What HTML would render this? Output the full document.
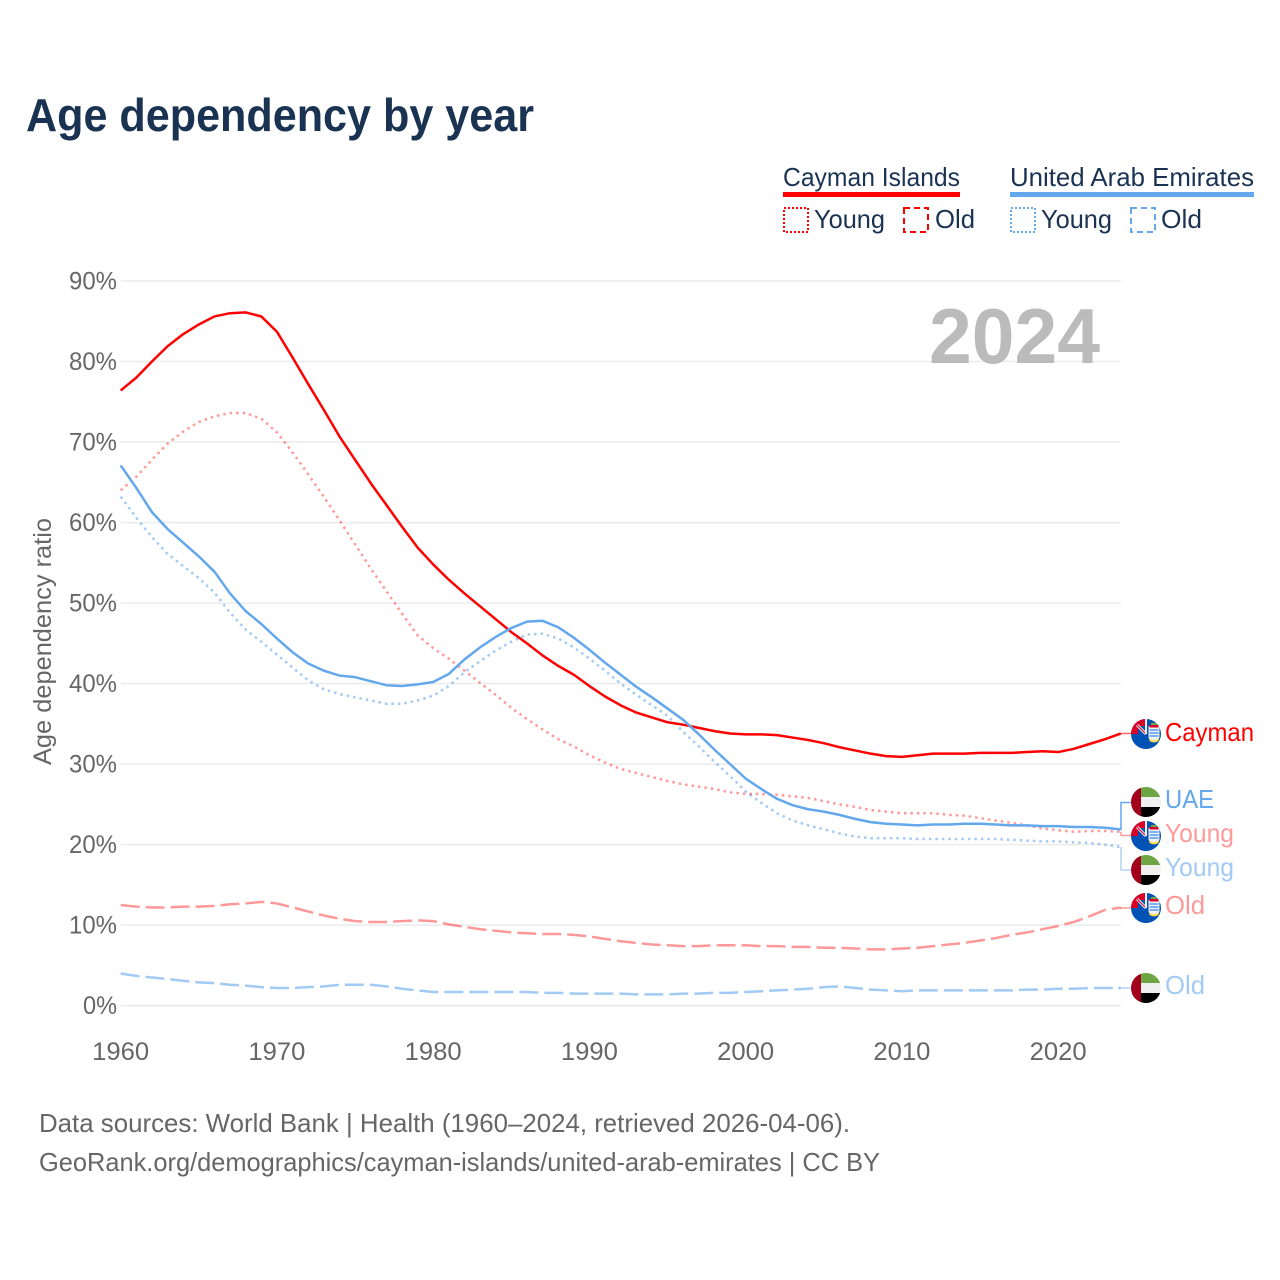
<!DOCTYPE html>
<html lang="en">
<head>
<meta charset="utf-8">
<title>Age dependency by year</title>
<style>
html,body{margin:0;padding:0;background:#fff;}
svg{display:block;}
text{font-family:"Liberation Sans",sans-serif;}
.tick{font-size:25px;fill:#666;}
.leg{font-size:26px;fill:#1a3353;}
.end{font-size:26px;}
.foot{font-size:26px;fill:#666;}
</style>
</head>
<body>
<svg id="chart" xmlns="http://www.w3.org/2000/svg" width="1280" height="1280" viewBox="0 0 1280 1280">
  <defs>
    <clipPath id="flag-clip"><circle cx="0" cy="0" r="15"/></clipPath>
    <g id="flag-cayman" clip-path="url(#flag-clip)">
      <rect x="-15" y="-15" width="30" height="30" fill="#0052b4"/>
      <rect x="-15" y="-15" width="15" height="15" fill="#d80027"/>
      <rect x="-8" y="-8" width="8" height="8" fill="#0052b4"/>
      <path d="M-9-9L0 0" stroke="#f0f0f0" stroke-width="3"/>
      <path d="M-9-9L0 0" stroke="#d80027" stroke-width="1"/>
      <rect x="-1" y="-15" width="2" height="15" fill="#f0f0f0"/>
      <path d="M2.500-8H13.500V3Q13.500 6 8 8Q2.500 6 2.500 3Z" fill="#f0f0f0"/>
      <rect x="3.500" y="-9" width="9" height="2.500" fill="#d80027"/>
      <rect x="5" y="-11" width="6" height="2" fill="#6da544"/>
      <path d="M3.500-4H12.500M3.500-1H12.500M3.500 2H12.500" stroke="#338af3" stroke-width="1.200"/>
      <path d="M3 4Q8 9 13 4L12.500 7Q8 10 3.500 7Z" fill="#ffda44"/>
    </g>
    <g id="flag-uae" clip-path="url(#flag-clip)">
      <rect x="-15" y="-15" width="30" height="10" fill="#6da544"/>
      <rect x="-15" y="-5" width="30" height="10" fill="#f0f0f0"/>
      <rect x="-15" y="5" width="30" height="10" fill="#000"/>
      <rect x="-15" y="-15" width="10" height="30" fill="#a2001d"/>
    </g>
  </defs>

  <text x="26" y="131" textLength="508" lengthAdjust="spacingAndGlyphs" font-size="46" font-weight="700" fill="#1a3353">Age dependency by year</text>

  <g>
    <text class="leg" x="783" y="186" textLength="177" lengthAdjust="spacingAndGlyphs">Cayman Islands</text>
    <rect x="783" y="192" width="177" height="5" fill="#ff0000"/>
    <rect x="784" y="208" width="24" height="24" fill="none" stroke="#ff0000" stroke-width="2" stroke-dasharray="2 2"/>
    <text class="leg" x="814" y="228" textLength="71" lengthAdjust="spacingAndGlyphs">Young</text>
    <rect x="904" y="208" width="24" height="24" fill="none" stroke="#ff0000" stroke-width="2" stroke-dasharray="6 4"/>
    <text class="leg" x="935" y="228" textLength="40" lengthAdjust="spacingAndGlyphs">Old</text>

    <text class="leg" x="1010" y="186" textLength="244" lengthAdjust="spacingAndGlyphs">United Arab Emirates</text>
    <rect x="1010" y="192" width="244" height="5" fill="#63a7ed"/>
    <rect x="1011" y="208" width="24" height="24" fill="none" stroke="#63a7ed" stroke-width="2" stroke-dasharray="2 2"/>
    <text class="leg" x="1041" y="228" textLength="71" lengthAdjust="spacingAndGlyphs">Young</text>
    <rect x="1131" y="208" width="24" height="24" fill="none" stroke="#63a7ed" stroke-width="2" stroke-dasharray="6 4"/>
    <text class="leg" x="1161" y="228" textLength="41" lengthAdjust="spacingAndGlyphs">Old</text>
  </g>

  <g id="grid"></g>
  <g id="yticks"></g>
  <g id="xticks"></g>

  <text transform="translate(51,765) rotate(-90)" x="0" y="0" textLength="247" lengthAdjust="spacingAndGlyphs" font-size="25" fill="#666">Age dependency ratio</text>

  <text x="929" y="363" textLength="171" lengthAdjust="spacingAndGlyphs" font-size="78" font-weight="700" fill="#bbbbbb">2024</text>

  <g id="series"></g>

  <g fill="none" stroke-width="1.500">
    <path d="M1121 830V802.500H1131" stroke="#63a7ed"/>
    <path d="M1121 832V835.500H1131" stroke="#ff0000" stroke-opacity=".4"/>
    <path d="M1121 847V870H1131" stroke="#63a7ed" stroke-opacity=".5"/>
    <path d="M1120 733.500H1131" stroke="#ff0000" stroke-opacity=".6"/>
    <path d="M1120 908H1131" stroke="#ff0000" stroke-opacity=".4"/>
    <path d="M1118 988H1131" stroke="#63a7ed" stroke-opacity=".5"/>
  </g>

  <g>
    <use href="#flag-cayman" x="1146" y="734"/>
    <use href="#flag-uae" x="1146" y="802"/>
    <use href="#flag-cayman" x="1146" y="836"/>
    <use href="#flag-uae" x="1146" y="870"/>
    <use href="#flag-cayman" x="1146" y="908"/>
    <use href="#flag-uae" x="1146" y="988"/>
    <text class="end" x="1165" y="741" textLength="89" lengthAdjust="spacingAndGlyphs" fill="#ff0000">Cayman</text>
    <text class="end" x="1165" y="808" textLength="49" lengthAdjust="spacingAndGlyphs" fill="#63a7ed">UAE</text>
    <text class="end" x="1165" y="842" textLength="69" lengthAdjust="spacingAndGlyphs" fill="#ff0000" fill-opacity=".4">Young</text>
    <text class="end" x="1165" y="876" textLength="69" lengthAdjust="spacingAndGlyphs" fill="#63a7ed" fill-opacity=".6">Young</text>
    <text class="end" x="1165" y="914" textLength="40" lengthAdjust="spacingAndGlyphs" fill="#ff0000" fill-opacity=".4">Old</text>
    <text class="end" x="1165" y="994" textLength="40" lengthAdjust="spacingAndGlyphs" fill="#63a7ed" fill-opacity=".6">Old</text>
  </g>

  <text class="foot" x="39" y="1132" textLength="811" lengthAdjust="spacingAndGlyphs">Data sources: World Bank | Health (1960–2024, retrieved 2026-04-06).</text>
  <text class="foot" x="39" y="1171" textLength="841" lengthAdjust="spacingAndGlyphs">GeoRank.org/demographics/cayman-islands/united-arab-emirates | CC BY</text>
</svg>
<script>
const startYear = 1960;
const yTickValues = [0,10,20,30,40,50,60,70,80,90];
const xTickValues = [1960,1970,1980,1990,2000,2010,2020];
const caymanTotal = [76.4,78,80,81.9,83.4,84.6,85.6,86,86.1,85.6,83.7,80.5,77.2,74,70.7,67.8,64.9,62.2,59.5,56.9,54.8,52.9,51.2,49.6,48,46.4,45,43.5,42.2,41.1,39.7,38.4,37.3,36.4,35.8,35.2,34.9,34.5,34.1,33.8,33.7,33.7,33.6,33.3,33,32.6,32.1,31.7,31.3,31,30.9,31.1,31.3,31.3,31.3,31.4,31.4,31.4,31.5,31.6,31.5,31.9,32.5,33.1,33.8];
const caymanYoung = [64,65.7,67.8,69.8,71.3,72.5,73.2,73.6,73.6,72.9,71.2,68.7,66,63.2,60.3,57.3,54.3,51.5,48.7,46,44.4,43.1,41.6,40.1,38.6,37,35.6,34.3,33.1,32.2,31.1,30.2,29.4,28.9,28.4,27.9,27.5,27.2,26.9,26.5,26.3,26.3,26.2,26,25.8,25.4,25,24.7,24.3,24.1,23.9,23.9,23.9,23.7,23.6,23.3,23,22.7,22.4,22,21.8,21.6,21.7,21.7,21.6];
const caymanOld = [12.5,12.3,12.2,12.2,12.3,12.3,12.4,12.6,12.7,12.9,12.7,12.2,11.7,11.2,10.8,10.5,10.4,10.4,10.5,10.6,10.5,10.1,9.8,9.5,9.3,9.1,9,8.9,8.9,8.8,8.6,8.3,8,7.8,7.6,7.5,7.4,7.4,7.5,7.5,7.5,7.4,7.4,7.3,7.3,7.2,7.2,7.1,7,7,7.1,7.2,7.4,7.6,7.8,8.1,8.4,8.8,9.1,9.5,9.9,10.4,11.1,11.9,12.2];
const uaeTotal = [67.1,64.3,61.3,59.2,57.5,55.8,53.9,51.2,49,47.4,45.6,43.9,42.5,41.6,41,40.8,40.3,39.8,39.7,39.9,40.2,41.2,43,44.5,45.8,46.9,47.7,47.8,47,45.7,44.2,42.6,41.1,39.6,38.3,36.9,35.5,33.7,31.8,30,28.2,26.9,25.7,24.9,24.4,24.1,23.7,23.2,22.8,22.6,22.5,22.4,22.5,22.5,22.6,22.6,22.5,22.4,22.4,22.3,22.3,22.2,22.2,22.1,21.9];
const uaeYoung = [63.2,60.6,58.2,56.1,54.6,53.1,51.3,48.8,46.7,45.2,43.6,42,40.4,39.3,38.7,38.3,37.9,37.5,37.5,37.9,38.5,39.7,41.4,42.8,44.1,45.2,46.1,46.2,45.6,44.5,43.1,41.6,40,38.6,37.3,36,34,32.2,30.3,28.5,26.6,25.2,23.9,23,22.4,21.9,21.4,21,20.8,20.8,20.8,20.7,20.7,20.7,20.7,20.7,20.7,20.6,20.5,20.4,20.4,20.3,20.2,20,19.7];
const uaeOld = [4,3.7,3.5,3.3,3.1,2.9,2.8,2.6,2.5,2.3,2.2,2.2,2.3,2.4,2.6,2.6,2.6,2.4,2.1,1.9,1.7,1.7,1.7,1.7,1.7,1.7,1.7,1.6,1.6,1.5,1.5,1.5,1.5,1.4,1.4,1.4,1.5,1.5,1.6,1.6,1.7,1.8,1.9,2,2.1,2.3,2.4,2.2,2,1.9,1.8,1.9,1.9,1.9,1.9,1.9,1.9,1.9,2,2,2.1,2.1,2.2,2.2,2.2];

const NS = 'http://www.w3.org/2000/svg';
const xAxis = function (year) { return 120.7 + (year - 1960) * (1000 / 64); };
const yAxis = function (value) { return 1005.7 - value * (724.7 / 90); };

const grid = document.getElementById('grid');
const yticks = document.getElementById('yticks');
const xticks = document.getElementById('xticks');
const seriesGroup = document.getElementById('series');

yTickValues.forEach(function (v) {
  const line = document.createElementNS(NS, 'line');
  
  
  line.setAttribute('x1', xAxis(1960));
  line.setAttribute('x2', xAxis(2024));
  line.setAttribute('y1', yAxis(v));
  line.setAttribute('y2', yAxis(v));
  line.setAttribute('stroke', '#ebebeb');
  line.setAttribute('stroke-width', '1.5');
  grid.appendChild(line);

  const label = document.createElementNS(NS, 'text');
  
  
  label.setAttribute('class', 'tick');
  label.setAttribute('x', 117);
  label.setAttribute('y', yAxis(v) + 8.5);
  label.setAttribute('text-anchor', 'end');
  label.setAttribute('textLength', v === 0 ? 34 : 48);
  label.setAttribute('lengthAdjust', 'spacingAndGlyphs');
  label.textContent = v + '%';
  yticks.appendChild(label);
});

xTickValues.forEach(function (yr) {
  const label = document.createElementNS(NS, 'text');
  
  
  label.setAttribute('class', 'tick');
  label.setAttribute('x', xAxis(yr));
  label.setAttribute('y', 1060);
  label.setAttribute('text-anchor', 'middle');
  label.setAttribute('textLength', 57);
  label.setAttribute('lengthAdjust', 'spacingAndGlyphs');
  label.textContent = yr;
  xticks.appendChild(label);
});

function drawSeries(values, name, color, opacity, dash) {
  const line = document.createElementNS(NS, 'polyline');
  
  
  line.setAttribute('points', values.map(function (v, i) {
    return xAxis(startYear + i).toFixed(2) + ',' + yAxis(v).toFixed(2);
  }).join(' '));
  line.setAttribute('fill', 'none');
  line.setAttribute('stroke', color);
  line.setAttribute('stroke-opacity', opacity);
  line.setAttribute('stroke-width', '2.5');
  line.setAttribute('stroke-linejoin', 'round');
  if (dash) line.setAttribute('stroke-dasharray', dash);
  seriesGroup.appendChild(line);
}

drawSeries(uaeOld, 'line-uae-old', '#63a7ed', 0.6, '19 6');
drawSeries(caymanOld, 'line-cayman-old', '#ff0000', 0.4, '19 6');
drawSeries(uaeYoung, 'line-uae-young', '#63a7ed', 0.6, '2.5 4');
drawSeries(caymanYoung, 'line-cayman-young', '#ff0000', 0.4, '2.5 4');
drawSeries(caymanTotal, 'line-cayman-total', '#ff0000', 1, '');
drawSeries(uaeTotal, 'line-uae-total', '#63a7ed', 1, '');
</script>
</body>
</html>
